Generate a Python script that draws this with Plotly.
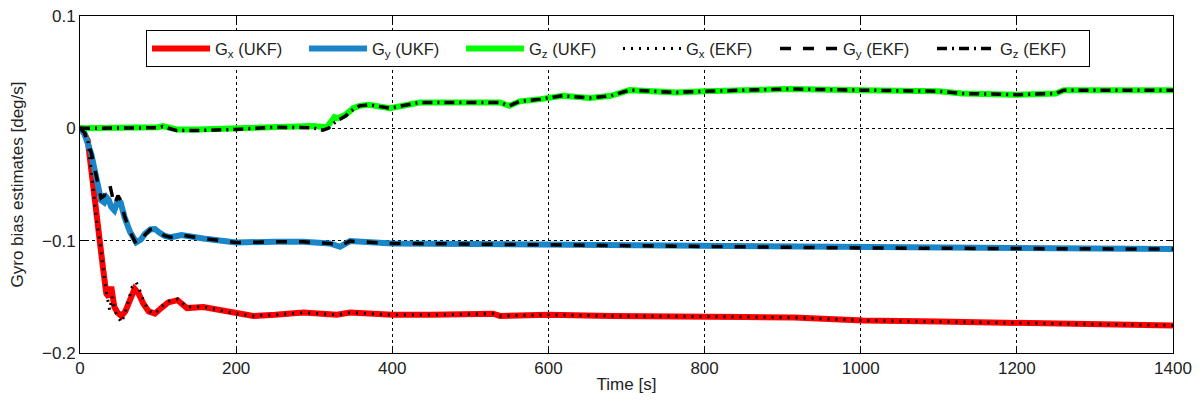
import plotly.graph_objects as go

# ---- data ----
t_gx_ukf = [0, 2, 10, 16.6, 21, 25, 29.4, 33.7, 37, 40, 44, 48, 53, 58, 62, 66, 70, 75, 81, 88, 96, 104, 113, 125,
            137, 158, 180, 200, 222, 250, 286, 310, 329, 346, 400, 450, 500, 529, 538, 600, 680, 755, 800, 850,
            915, 1003, 1100, 1206, 1300, 1400]
v_gx_ukf = [0, 0, -0.011, -0.053, -0.082, -0.100, -0.124, -0.147, -0.150, -0.141, -0.159, -0.164, -0.167, -0.163,
            -0.157, -0.148, -0.143, -0.147, -0.156, -0.163, -0.165, -0.160, -0.155, -0.153,
            -0.160, -0.159, -0.162, -0.165, -0.167, -0.166, -0.164, -0.165, -0.166, -0.164, -0.166, -0.166, -0.165,
            -0.165, -0.167, -0.166, -0.167, -0.167, -0.1675, -0.168, -0.1685, -0.171, -0.172, -0.173, -0.174, -0.1755]

t_gx_ekf = [0, 2, 10, 16.6, 21, 25, 29.4, 33.7, 38, 41, 45, 50, 53, 57, 62, 67, 72, 77, 82, 89, 96, 104, 113, 125,
            137, 158, 180, 200, 222, 250, 286, 310, 329, 346, 400, 450, 500, 529, 538, 600, 680, 755, 800, 850,
            915, 1003, 1100, 1206, 1300, 1400]
v_gx_ekf = [0, 0, -0.010, -0.052, -0.081, -0.099, -0.123, -0.146, -0.162, -0.150, -0.163, -0.170, -0.173, -0.166,
            -0.153, -0.141, -0.137, -0.145, -0.155, -0.163, -0.165, -0.159, -0.154, -0.152,
            -0.159, -0.159, -0.162, -0.165, -0.167, -0.166, -0.164, -0.165, -0.166, -0.164, -0.166, -0.166, -0.165,
            -0.165, -0.167, -0.166, -0.167, -0.167, -0.1675, -0.168, -0.1685, -0.171, -0.172, -0.173, -0.174, -0.1755]

t_gy_ukf = [0, 6, 14.5, 21, 27, 31, 34, 37, 40, 44, 48.6, 52, 57, 64, 72, 78, 83, 90, 96, 102, 108, 116, 125, 130,
            158, 200, 250, 286, 320, 333, 346, 400, 500, 600, 755, 850, 1000, 1200, 1400]
v_gy_ukf = [0, -0.005, -0.023, -0.044, -0.064, -0.066, -0.0615, -0.064, -0.070, -0.073, -0.064, -0.066, -0.079,
            -0.092, -0.1015, -0.099, -0.094, -0.090, -0.0896, -0.093, -0.0955, -0.097, -0.0955, -0.095,
            -0.098, -0.1016, -0.101, -0.101, -0.1025, -0.1055, -0.1004, -0.1025, -0.103, -0.1035, -0.105,
            -0.1055, -0.1065, -0.107, -0.1075]

t_gy_ekf = [0, 6, 14.5, 21, 27, 31, 35, 38, 41, 44, 48.6, 52, 57, 64, 72, 78, 83, 90, 96, 102, 108, 116, 125, 130,
            158, 200, 250, 286, 320, 333, 346, 400, 500, 600, 755, 850, 1000, 1200, 1400]
v_gy_ekf = [0, -0.004, -0.022, -0.043, -0.062, -0.060, -0.052, -0.050, -0.058, -0.068, -0.060, -0.064, -0.078,
            -0.092, -0.103, -0.100, -0.095, -0.090, -0.0896, -0.093, -0.0955, -0.097, -0.0955, -0.095,
            -0.098, -0.1016, -0.101, -0.101, -0.1025, -0.1045, -0.1004, -0.1025, -0.103, -0.1035, -0.105,
            -0.1055, -0.1065, -0.107, -0.1075]

t_gz_ukf = [0, 50, 100, 106, 115, 124, 150, 199, 250, 298, 316, 322, 326, 330, 340, 350, 358, 370, 397, 420, 435,
            500, 538, 550, 563, 590, 618, 653, 680, 704, 764, 800, 906, 1000, 1100, 1130, 1200, 1250, 1260, 1400]
v_gz_ukf = [0, 0, 0.001, 0.002, 0.001, -0.001, -0.001, 0, 0.002, 0.002, 0.001, 0.006, 0.010, 0.009, 0.012, 0.018,
            0.020, 0.021, 0.018, 0.021, 0.023, 0.023, 0.023, 0.020, 0.024, 0.026, 0.029, 0.027, 0.029, 0.034,
            0.032, 0.033, 0.035, 0.034, 0.033, 0.031, 0.030, 0.031, 0.034, 0.034]

t_gz_ekf = [0, 50, 100, 106, 115, 124, 150, 199, 250, 298, 311, 318, 324, 330, 340, 350, 358, 370, 397, 420, 435,
            500, 538, 550, 563, 590, 618, 653, 680, 704, 764, 800, 906, 1000, 1100, 1130, 1200, 1250, 1260, 1400]
v_gz_ekf = [0, 0, 0.0005, 0.0015, 0.0, -0.002, -0.002, -0.001, 0.001, 0.0005, -0.0016, 0.0, 0.004, 0.007, 0.011,
            0.017, 0.020, 0.021, 0.018, 0.021, 0.023, 0.023, 0.023, 0.020, 0.024, 0.026, 0.029, 0.027, 0.029, 0.034,
            0.032, 0.033, 0.035, 0.034, 0.033, 0.031, 0.030, 0.031, 0.034, 0.034]

x_ticks = [0, 200, 400, 600, 800, 1000, 1200, 1400]
y_ticks = [0.1, 0, -0.1, -0.2]
y_tick_text = ["0.1", "0", "\u22120.1", "\u22120.2"]

names = ["G<sub>x</sub> (UKF)", "G<sub>y</sub> (UKF)", "G<sub>z</sub> (UKF)",
         "G<sub>x</sub> (EKF)", "G<sub>y</sub> (EKF)", "G<sub>z</sub> (EKF)"]

fig = go.Figure()
fig.add_trace(go.Scatter(x=t_gx_ukf, y=v_gx_ukf, mode="lines", name=names[0],
                         line=dict(color="#ff0000", width=6)))
fig.add_trace(go.Scatter(x=t_gy_ukf, y=v_gy_ukf, mode="lines", name=names[1],
                         line=dict(color="#1a86c8", width=6)))
fig.add_trace(go.Scatter(x=t_gz_ukf, y=v_gz_ukf, mode="lines", name=names[2],
                         line=dict(color="#00ff00", width=6)))
fig.add_trace(go.Scatter(x=t_gx_ekf, y=v_gx_ekf, mode="lines", name=names[3],
                         line=dict(color="black", width=3, dash="2px,6px")))
fig.add_trace(go.Scatter(x=t_gy_ekf, y=v_gy_ekf, mode="lines", name=names[4],
                         line=dict(color="black", width=3.5, dash="11px,12px")))
fig.add_trace(go.Scatter(x=t_gz_ekf, y=v_gz_ekf, mode="lines", name=names[5],
                         line=dict(color="black", width=3.5, dash="10px,5px,2px,5px")))

base_font = "Liberation Sans, Arial, sans-serif"
narrow_font = "Liberation Sans Narrow, Liberation Sans, Arial, sans-serif"
axis_common = dict(showline=True, linecolor="black", linewidth=1, mirror="ticks",
                   ticks="inside", ticklen=6, tickcolor="black",
                   showgrid=True, gridcolor="black", gridwidth=1, griddash="dot",
                   zeroline=False, automargin=False)

fig.update_layout(
    width=1203, height=403,
    margin=dict(l=80, r=30, t=16, b=50),
    paper_bgcolor="white", plot_bgcolor="white",
    font=dict(family=base_font, size=16, color="#222"),
    showlegend=True,
    legend=dict(orientation="h", x=0.0604, y=0.958, xanchor="left", yanchor="top",
                bgcolor="white", bordercolor="black", borderwidth=1,
                font=dict(size=16.5, family=base_font, color="#222"),
                itemwidth=58, entrywidth=84, entrywidthmode="pixels", tracegroupgap=0),
    xaxis=dict(range=[0, 1400], tickvals=x_ticks,
               tickfont=dict(family=narrow_font, size=17, color="#222"),
               title=dict(text="Time [s]", standoff=0,
                          font=dict(family=narrow_font, size=17, color="#222")),
               **axis_common),
    yaxis=dict(range=[-0.2, 0.1], tickvals=y_ticks, ticktext=y_tick_text,
               tickfont=dict(family=base_font, size=17, color="#222"),
               title=dict(text="Gyro bias estimates [deg/s]", standoff=14,
                          font=dict(family=base_font, size=17, color="#222")),
               **axis_common),
)

fig.write_html("out.html",
               config={"displayModeBar": False},
               post_script="document.body.style.margin='0';document.body.style.overflow='hidden';")
